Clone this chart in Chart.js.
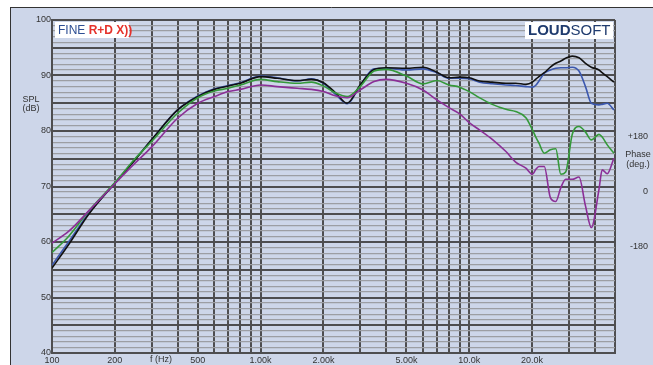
<!DOCTYPE html>
<html>
<head>
<meta charset="utf-8">
<script src="https://cdn.jsdelivr.net/npm/chart.js@4.4.1/dist/chart.umd.min.js"></script>
<style>
  html, body { margin: 0; padding: 0; background: #fff; }
  canvas { display: block; }
</style>
</head>
<body>
<canvas id="spl-chart" width="653" height="365"></canvas>
<script>
// 頻率 (Hz)
const freq = [100, 120, 150, 200, 250, 300, 400, 500, 600, 700, 800, 1000, 1200, 1500, 1750, 2000,
  2300, 2600, 3000, 3500, 4000, 5000, 6000, 7000, 8000, 9000, 10000, 11200, 12900, 15000, 16700,
  18700, 20100, 20800, 21600, 22900, 24500, 26000, 27500, 29000, 31200, 33600, 36100, 38500,
  41900, 43400, 45900, 49400];

// SPL (dB) 四條曲線
const splBlack = [55.3, 59.5, 65.0, 70.6, 74.8, 78.4, 83.8, 86.2, 87.5, 88.1, 88.6, 89.8, 89.5, 89.1,
  89.3, 88.7, 86.8, 85.0, 88.3, 91.1, 91.4, 91.3, 91.5, 90.6, 89.6, 89.7, 89.6, 89.0, 88.8, 88.6,
  88.6, 88.4, 88.8, 89.3, 89.8, 90.5, 91.5, 92.2, 92.6, 93.1, 93.5, 93.2, 92.2, 91.5, 91.0, 90.5,
  89.8, 88.8];
const splBlue = [55.8, 60.0, 65.2, 70.6, 74.9, 78.4, 83.8, 86.3, 87.6, 88.2, 88.7, 89.9, 89.6, 89.0,
  89.4, 88.6, 86.5, 84.9, 88.2, 91.2, 91.3, 91.0, 91.2, 90.5, 89.5, 89.5, 89.4, 88.8, 88.5, 88.3,
  88.2, 88.0, 87.9, 88.2, 89.0, 90.4, 91.0, 91.3, 91.4, 91.4, 91.5, 90.8, 88.0, 85.0, 84.7, 84.8,
  85.0, 83.8];
const splGreen = [58.1, 61.0, 65.6, 70.7, 75.0, 78.1, 83.2, 86.0, 87.2, 87.7, 88.3, 89.3, 88.9, 88.6,
  88.8, 88.1, 86.8, 86.2, 88.0, 90.8, 91.1, 89.9, 88.5, 89.1, 88.3, 87.9, 87.1, 86.0, 84.8, 83.9,
  83.5, 82.4, 80.2, 79.0, 77.8, 76.0, 76.6, 76.8, 72.2, 72.6, 79.4, 80.8, 79.8, 78.4, 79.4, 78.9,
  77.5, 76.0];
const splPurple = [59.8, 61.9, 65.6, 70.5, 74.2, 77.1, 82.3, 85.0, 86.2, 87.1, 87.5, 88.3, 88.0, 87.7,
  87.5, 87.1, 86.3, 86.0, 87.4, 88.9, 89.3, 88.6, 87.4, 85.6, 84.2, 83.1, 81.5, 80.2, 78.5, 76.3,
  74.4, 73.3, 72.2, 73.0, 73.6, 73.6, 68.0, 67.3, 69.8, 71.3, 71.3, 71.7, 66.5, 62.6, 69.5, 73.0,
  72.3, 75.1];

// 座標軸刻度
const gridFreqs = [100, 200, 300, 400, 500, 600, 700, 800, 900, 1000, 2000, 3000, 4000, 5000, 6000,
  7000, 8000, 9000, 10000, 20000, 30000, 40000, 50000];
const freqLabels = { 100: "100", 200: "200", 500: "500", 1000: "1.00k", 2000: "2.00k",
  5000: "5.00k", 10000: "10.0k", 20000: "20.0k" };
const phaseTicks = [-180, 0, 180];

const panelColor = "#cdd6e9";
const gridDark = "#4e4e50";
const gridLight = "#9c9ea3";

const toPoints = (values) => freq.map((f, i) => ({ x: f, y: values[i] }));

// 背景、文字
const decorPlugin = {
  id: "decor",
  beforeDraw(chart) {
    const { ctx, chartArea, width, height } = chart;
    ctx.save();
    ctx.fillStyle = "#fff";
    ctx.fillRect(0, 0, width, height);
    ctx.fillStyle = panelColor;
    ctx.fillRect(10, 7, width - 10, height - 7);
    ctx.strokeStyle = "#333";
    ctx.lineWidth = 1;
    ctx.beginPath();
    ctx.moveTo(10, 7.5);
    ctx.lineTo(width, 7.5);
    ctx.moveTo(10.5, 7);
    ctx.lineTo(10.5, height);
    ctx.stroke();
    ctx.restore();
  },
  afterDraw(chart) {
    const { ctx, chartArea } = chart;
    ctx.save();
    ctx.fillStyle = "#333";
    ctx.font = "9px 'Liberation Sans', Arial, sans-serif";
    ctx.textAlign = "center";
    ctx.textBaseline = "middle";
    ctx.fillText("SPL", 31, 100);
    ctx.fillText("(dB)", 31, 109);
    ctx.fillText("Phase", 638, 155);
    ctx.fillText("(deg.)", 638, 165);
    ctx.fillText("f (Hz)", 161, chartArea.bottom + 7);

    // FINE R+D X)) 標誌
    ctx.fillStyle = "#fff";
    ctx.fillRect(55, 22, 74, 16);
    ctx.textAlign = "left";
    ctx.font = "12px 'Liberation Sans', Arial, sans-serif";
    ctx.fillStyle = "#2d4e93";
    ctx.fillText("FINE", 58, 30.5);
    const fineW = ctx.measureText("FINE ").width;
    ctx.font = "bold 12px 'Liberation Sans Narrow', 'Liberation Sans', Arial, sans-serif";
    ctx.fillStyle = "#e5322b";
    ctx.fillText("R+D X))", 58 + fineW, 30.5);

    // LOUDSOFT 標誌
    ctx.fillStyle = "#fff";
    ctx.fillRect(525, 22, 88, 17);
    ctx.font = "bold 15px 'Liberation Sans', Arial, sans-serif";
    ctx.fillStyle = "#1f3b6e";
    ctx.fillText("LOUD", 528, 31);
    const loudW = ctx.measureText("LOUD").width;
    ctx.font = "15px 'Liberation Sans', Arial, sans-serif";
    ctx.fillText("SOFT", 528 + loudW, 31);
    ctx.restore();
  },
};

const plotBgPlugin = {
  id: "plotBg",
  beforeDatasetsDraw() {},
};

const chartEl = document.getElementById("spl-chart");
new Chart(chartEl, {
  type: "line",
  data: {
    datasets: [
      { label: "purple", data: toPoints(splPurple), borderColor: "#8b2f97" },
      { label: "green", data: toPoints(splGreen), borderColor: "#35993a" },
      { label: "black", data: toPoints(splBlack), borderColor: "#111111" },
      { label: "blue", data: toPoints(splBlue), borderColor: "#3b57ad" },
    ],
  },
  options: {
    responsive: false,
    devicePixelRatio: 1,
    animation: false,
    layout: { padding: { left: 10, top: 20, right: 5, bottom: 0 } },
    elements: {
      point: { radius: 0 },
      line: { borderWidth: 1.6, cubicInterpolationMode: "monotone", fill: false },
    },
    plugins: { legend: { display: false }, tooltip: { enabled: false } },
    scales: {
      x: {
        type: "logarithmic",
        min: 100,
        max: 50000,
        afterBuildTicks(scale) {
          scale.ticks = gridFreqs.map((v) => ({ value: v }));
        },
        afterFit(scale) {
          scale.height = 12;
        },
        grid: { color: gridDark, lineWidth: 2, drawTicks: false },
        border: { color: gridDark, width: 2 },
        ticks: {
          autoSkip: false,
          maxRotation: 0,
          padding: 2,
          color: "#333",
          font: { size: 9, family: "'Liberation Sans', Arial, sans-serif" },
          callback: (v) => freqLabels[v] || "",
        },
      },
      y: {
        min: 40,
        max: 100,
        afterFit(scale) {
          scale.width = 42;
        },
        grid: {
          drawTicks: false,
          color: (c) => (c.tick.value % 5 === 0 ? gridDark : gridLight),
          lineWidth: (c) => (c.tick.value % 5 === 0 ? 2 : 1.2),
        },
        border: { color: gridDark, width: 2 },
        ticks: {
          stepSize: 1,
          autoSkip: false,
          padding: 1,
          color: "#333",
          font: { size: 9, family: "'Liberation Sans', Arial, sans-serif" },
          callback: (v) => (v % 10 === 0 ? String(v) : ""),
        },
      },
      phase: {
        position: "right",
        min: -527,
        max: 563,
        afterBuildTicks(scale) {
          scale.ticks = phaseTicks.map((v) => ({ value: v }));
        },
        afterFit(scale) {
          scale.width = 33;
        },
        grid: { display: false },
        border: { display: false },
        ticks: {
          crossAlign: "far",
          padding: 0,
          color: "#333",
          font: { size: 9, family: "'Liberation Sans', Arial, sans-serif" },
          callback: (v) => (v > 0 ? "+" + v : String(v)),
        },
      },
    },
  },
  plugins: [decorPlugin],
});
</script>
</body>
</html>
